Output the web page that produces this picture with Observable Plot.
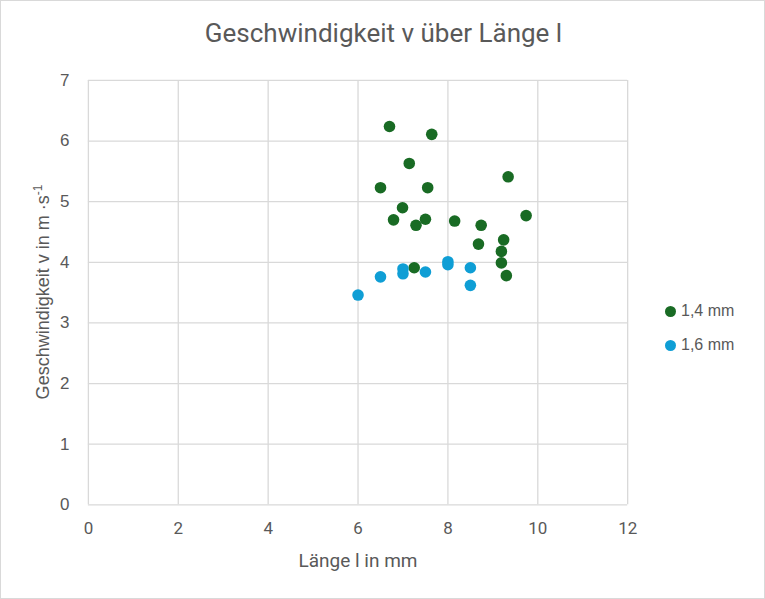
<!DOCTYPE html>
<html><head><meta charset="utf-8">
<script src="https://cdn.jsdelivr.net/npm/d3@7"></script>
<script src="https://cdn.jsdelivr.net/npm/@observablehq/plot@0.6"></script>
<style>
html,body{margin:0;padding:0;background:#fff;}
#wrap{position:relative;width:765px;height:599px;box-sizing:border-box;border:1px solid #d9d9d9;overflow:hidden;}
#title{position:absolute;left:0;width:765px;top:17px;text-align:center;font-family:"Liberation Sans Narrow","Roboto",sans-serif;font-size:26px;color:#595959;}
#chart{position:absolute;left:-1px;top:-1px;}
#ylab{position:absolute;left:41px;top:291px;transform:translate(-50%,-50%) rotate(-90deg);white-space:nowrap;font-family:"Liberation Sans",Arial,sans-serif;font-size:18px;color:#595959;}
#ylab sup{font-size:12px;}
#xlab{position:absolute;left:357px;top:548px;transform:translateX(-50%);white-space:nowrap;font-family:"Liberation Sans Narrow","Roboto",sans-serif;font-size:19px;color:#595959;}
.leg{position:absolute;left:664px;font-family:"Liberation Sans",Arial,sans-serif;font-size:16px;color:#595959;display:flex;align-items:center;}
.leg span.dot{display:inline-block;width:11px;height:11px;border-radius:50%;margin-right:5px;}
</style>
</head><body>
<div id="wrap">
<div id="chart"></div>
<div id="title">Geschwindigkeit v über Länge l</div>
<div id="ylab">Geschwindigkeit v in m ·s<sup>-1</sup></div>
<div id="xlab">Länge l in mm</div>
<div class="leg" style="top:301px"><span class="dot" style="background:#196B24"></span>1,4 mm</div>
<div class="leg" style="top:335px"><span class="dot" style="background:#0F9ED5"></span>1,6 mm</div>
</div>
<script>
const seriesNames = ["1,4 mm", "1,6 mm"];
const seriesColors = ["#196B24", "#0F9ED5"];
const len14 = [6.70, 7.64, 7.14, 6.50, 7.55, 9.34, 6.99, 6.79, 7.50, 7.29, 8.15, 8.74, 9.74, 8.68, 9.24, 9.19, 9.19, 9.30, 7.25];
const v14   = [6.24, 6.11, 5.63, 5.23, 5.23, 5.41, 4.90, 4.70, 4.71, 4.61, 4.68, 4.61, 4.77, 4.30, 4.37, 4.18, 3.99, 3.78, 3.91];
const len16 = [6.00, 6.50, 7.00, 7.00, 7.50, 8.00, 8.00, 8.50, 8.50];
const v16   = [3.46, 3.76, 3.89, 3.81, 3.84, 4.01, 3.96, 3.91, 3.62];
const xTicks = [0, 2, 4, 6, 8, 10, 12];
const yTicks = [0, 1, 2, 3, 4, 5, 6, 7];

const data = [
  ...len14.map((x, i) => ({x, y: v14[i], s: seriesNames[0]})),
  ...len16.map((x, i) => ({x, y: v16[i], s: seriesNames[1]}))
];

const chart = Plot.plot({
  width: 765, height: 599,
  marginLeft: 88, marginRight: 137, marginTop: 80, marginBottom: 94,
  style: {fontFamily: "'Liberation Sans', Arial, sans-serif", fontSize: "16px", color: "#595959", background: "transparent"},
  x: {domain: [0, 12], ticks: xTicks, label: null},
  y: {domain: [0, 7], ticks: yTicks, label: null},
  color: {domain: seriesNames, range: seriesColors},
  marks: [
    Plot.gridX(xTicks, {stroke: "#d9d9d9", strokeOpacity: 1, strokeWidth: 1.3}),
    Plot.gridY(yTicks, {stroke: "#d9d9d9", strokeOpacity: 1, strokeWidth: 1.3}),
    Plot.axisX(xTicks, {tickSize: 0, tickPadding: 17, tickFormat: d3.format("d"), fontFamily: "'Liberation Sans Narrow', Roboto, sans-serif", fontSize: 17, label: null}),
    Plot.axisY(yTicks, {tickSize: 0, tickPadding: 19, tickFormat: d3.format("d"), fontSize: 17, label: null}),
    Plot.dot(data, {x: "x", y: "y", fill: "s", r: 5.8, stroke: "none"})
  ]
});
document.getElementById("chart").appendChild(chart);
</script>
</body></html>
